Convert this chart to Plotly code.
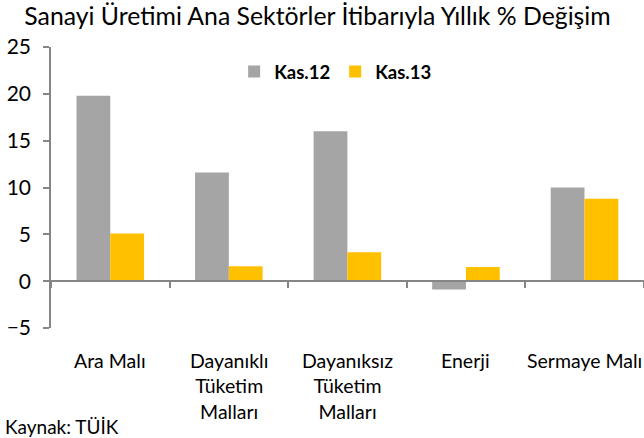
import plotly.graph_objs as go

categories = ["Ara Malı", "Dayanıklı<br>Tüketim<br>Malları", "Dayanıksız<br>Tüketim<br>Malları",
              "Enerji", "Sermaye Malı"]
kas12 = [19.8, 11.6, 16.0, -0.9, 10.0]
kas13 = [5.1, 1.6, 3.1, 1.5, 8.8]
y_ticks = [-5, 0, 5, 10, 15, 20, 25]

FONT = "Lato, 'Open Sans', sans-serif"
AXIS_GREY = "#868686"

trace0 = go.Bar(x=categories, y=kas12, name="Kas.12", marker=dict(color="#A5A5A5", line=dict(width=0)))
trace1 = go.Bar(x=categories, y=kas13, name="Kas.13", marker=dict(color="#FFC000", line=dict(width=0)))

# category labels sit at the bottom, while the category axis line runs through zero
cat_labels = [dict(text=c, xref="x", yref="paper", x=c, y=-0.068, xanchor="center", yanchor="top",
                   showarrow=False, font=dict(family=FONT, size=19.5, color="#000000"))
              for c in categories]

layout = go.Layout(
    width=644, height=438,
    margin=dict(l=51, r=0, t=47, b=110),
    paper_bgcolor="white", plot_bgcolor="white",
    font=dict(family=FONT, size=19, color="#000000"),
    title=dict(text="Sanayi Üretimi Ana Sektörler İtibarıyla Yıllık % Değişim",
               x=0.493, xanchor="center", y=0.962, yanchor="middle",
               font=dict(family=FONT, size=24.8, color="#000000")),
    barmode="group", bargap=0.43, bargroupgap=0,
    showlegend=True,
    legend=dict(orientation="h", x=0.48, xanchor="center", y=0.911, yanchor="middle",
                font=dict(family=FONT, size=18.5, weight="bold"),
                bgcolor="rgba(0,0,0,0)", itemwidth=30, tracegroupgap=0),
    xaxis=dict(type="category", anchor="free", position=5 / 30,
               showline=True, linecolor=AXIS_GREY, linewidth=1.5,
               ticks="outside", tickson="boundaries", ticklen=6,
               tickcolor=AXIS_GREY, tickwidth=1.5,
               showticklabels=False, showgrid=False, zeroline=False),
    yaxis=dict(range=[-5, 25], tickmode="array", tickvals=y_ticks,
               showline=True, linecolor=AXIS_GREY, linewidth=1.5,
               ticks="outside", ticklen=6, tickcolor=AXIS_GREY, tickwidth=1.5,
               ticklabelstandoff=8,
               showgrid=False, zeroline=False, tickfont=dict(size=21)),
    annotations=cat_labels + [dict(text="Kaynak: TÜİK", xref="paper", yref="paper",
                                   x=-0.081, xanchor="left", y=-0.352, yanchor="middle",
                                   showarrow=False, font=dict(family=FONT, size=19))],
)

fig = go.Figure(data=[trace0, trace1], layout=layout)
fig.write_html("out.html", config={"displayModeBar": False},
               post_script="document.body.style.margin='0px';")
